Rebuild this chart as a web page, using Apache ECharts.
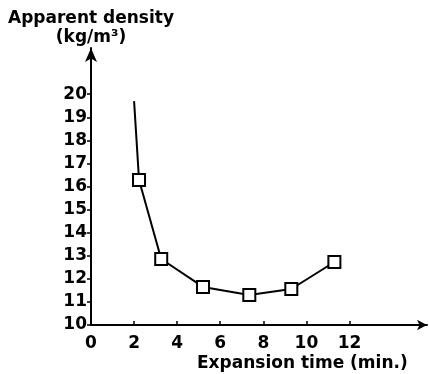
<!DOCTYPE html>
<html>
<head>
<meta charset="utf-8">
<script src="https://cdn.jsdelivr.net/npm/echarts@6/dist/echarts.min.js"></script>
<style>
  html, body { margin: 0; padding: 0; background: #fff; }
  #chart { width: 429px; height: 374px; }
</style>
</head>
<body>
<div id="chart"></div>
<script>
// expansion time (min.) vs apparent density (kg/m3)
const times = [2.0, 2.23, 3.26, 5.2, 7.35, 9.3, 11.3];
const densities = [19.7, 16.28, 12.86, 11.65, 11.3, 11.56, 12.73];
const xTicks = [0, 2, 4, 6, 8, 10, 12];
const yTicks = [10, 11, 12, 13, 14, 15, 16, 17, 18, 19, 20];

const font = "DejaVu Sans";
const chart = echarts.init(document.getElementById("chart"));

chart.setOption({
    animation: false,
    grid: { left: 91, right: 2, top: 48, bottom: 49 },
    xAxis: {
        type: "value",
        min: 0,
        max: 15.6,
        interval: 2,
        axisLine: {
            onZero: false,
            symbol: ["none", "arrow"],
            symbolSize: [8, 10],
            lineStyle: { color: "#000", width: 2 }
        },
        axisTick: {
            inside: true,
            length: 4,
            customValues: xTicks.slice(1),
            lineStyle: { color: "#000", width: 1.5 }
        },
        axisLabel: {
            showMaxLabel: false,
            formatter: v => (xTicks.indexOf(v) >= 0 ? String(v) : ""),
            margin: 10,
            color: "#000",
            fontFamily: font,
            fontWeight: "bold",
            fontSize: 17
        },
        splitLine: { show: false }
    },
    yAxis: {
        type: "value",
        min: 10,
        max: 22,
        interval: 1,
        name: "Apparent density\n(kg/m³)",
        nameLocation: "end",
        nameGap: 1,
        nameTextStyle: {
            color: "#000",
            fontFamily: font,
            fontWeight: "bold",
            fontSize: 17,
            align: "center",
            verticalAlign: "bottom",
            lineHeight: 19
        },
        axisLine: {
            onZero: false,
            symbol: ["none", "arrow"],
            symbolSize: [9, 14],
            lineStyle: { color: "#000", width: 2 }
        },
        axisTick: {
            length: 4,
            customValues: yTicks,
            lineStyle: { color: "#000", width: 1.5 }
        },
        axisLabel: {
            formatter: v => (yTicks.indexOf(v) >= 0 ? String(v) : ""),
            margin: 4,
            color: "#000",
            fontFamily: font,
            fontWeight: "bold",
            fontSize: 17
        },
        splitLine: { show: false }
    },
    graphic: [
        {
            type: "text",
            left: 197,
            top: 355,
            style: {
                text: "Expansion time (min.)",
                fill: "#000",
                font: "bold 17px '" + font + "'"
            }
        }
    ],
    series: [
        {
            type: "line",
            data: times.map((t, i) => ({
                value: [t, densities[i]],
                symbol: i === 0 ? "none" : "rect"
            })),
            symbolSize: 12,
            showAllSymbol: true,
            lineStyle: { color: "#000", width: 2 },
            itemStyle: { color: "#fff", borderColor: "#000", borderWidth: 2 }
        }
    ]
});
</script>
</body>
</html>
